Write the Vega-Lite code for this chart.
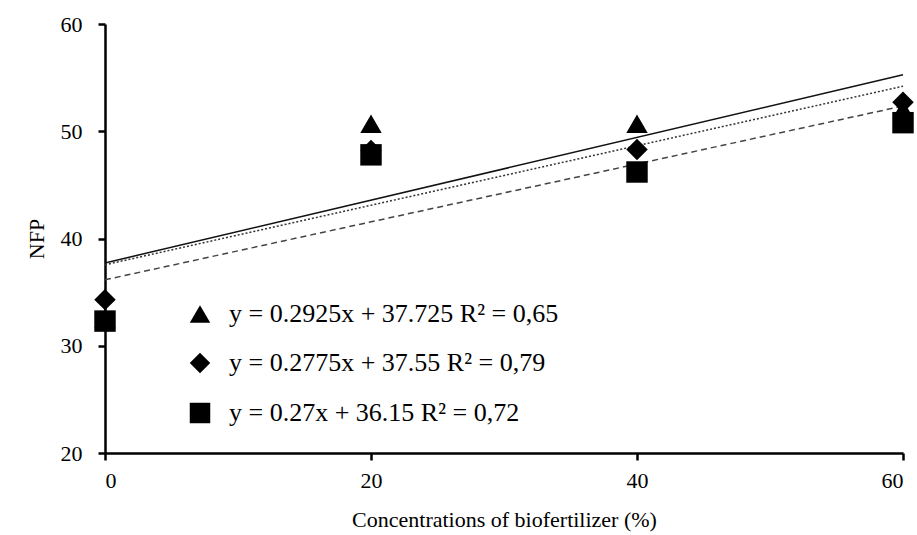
{
  "$schema": "https://vega.github.io/schema/vega-lite/v6.json",
  "width": 798,
  "height": 429,
  "autosize": {"type": "none"},
  "padding": {"left": 105, "top": 24, "right": 14, "bottom": 82},
  "background": "white",
  "config": {
    "view": {"stroke": null},
    "font": "Liberation Serif",
    "axis": {
      "grid": false,
      "domainColor": "black",
      "domainWidth": 2.5,
      "tickColor": "black",
      "tickWidth": 2.5,
      "tickSize": 7,
      "labelFont": "Liberation Serif",
      "labelFontSize": 22,
      "labelColor": "black",
      "titleFont": "Liberation Serif",
      "titleFontSize": 22,
      "titleFontWeight": "normal",
      "titleColor": "black"
    }
  },
  "datasets": {
    "points": [
      {"conc": 0, "nfp": 32.55, "series": "y = 0.2925x + 37.725 R² = 0,65"},
      {"conc": 20, "nfp": 50.7, "series": "y = 0.2925x + 37.725 R² = 0,65"},
      {"conc": 40, "nfp": 50.7, "series": "y = 0.2925x + 37.725 R² = 0,65"},
      {"conc": 60, "nfp": 52.05, "series": "y = 0.2925x + 37.725 R² = 0,65"},
      {"conc": 0, "nfp": 34.3, "series": "y = 0.2775x + 37.55 R² = 0,79"},
      {"conc": 20, "nfp": 48.2, "series": "y = 0.2775x + 37.55 R² = 0,79"},
      {"conc": 40, "nfp": 48.3, "series": "y = 0.2775x + 37.55 R² = 0,79"},
      {"conc": 60, "nfp": 52.7, "series": "y = 0.2775x + 37.55 R² = 0,79"},
      {"conc": 0, "nfp": 32.3, "series": "y = 0.27x + 36.15 R² = 0,72"},
      {"conc": 20, "nfp": 47.8, "series": "y = 0.27x + 36.15 R² = 0,72"},
      {"conc": 40, "nfp": 46.2, "series": "y = 0.27x + 36.15 R² = 0,72"},
      {"conc": 60, "nfp": 50.8, "series": "y = 0.27x + 36.15 R² = 0,72"}
    ],
    "trends": [
      {"conc": 0, "nfp": 37.725, "fit": "A"},
      {"conc": 60, "nfp": 55.275, "fit": "A"},
      {"conc": 0, "nfp": 37.55, "fit": "B"},
      {"conc": 60, "nfp": 54.2, "fit": "B"},
      {"conc": 0, "nfp": 36.15, "fit": "C"},
      {"conc": 60, "nfp": 52.35, "fit": "C"}
    ]
  },
  "encoding": {
    "x": {
      "field": "conc",
      "type": "quantitative",
      "scale": {"domain": [0, 60], "nice": false, "zero": false},
      "axis": {"values": [0, 20, 40, 60], "title": "Concentrations of biofertilizer (%)", "labelPadding": 10, "titlePadding": 18}
    },
    "y": {
      "field": "nfp",
      "type": "quantitative",
      "scale": {"domain": [20, 60], "nice": false, "zero": false},
      "axis": {"values": [20, 30, 40, 50, 60], "title": "NFP", "labelPadding": 16, "titlePadding": 12}
    }
  },
  "layer": [
    {
      "data": {"name": "trends"},
      "transform": [{"filter": "datum.fit === 'A'"}],
      "mark": {"type": "line", "strokeWidth": 1.5, "color": "#111111"},
      "encoding": {}
    },
    {
      "data": {"name": "trends"},
      "transform": [{"filter": "datum.fit === 'B'"}],
      "mark": {"type": "line", "strokeWidth": 1.5, "color": "#333333", "strokeDash": [2, 2]},
      "encoding": {}
    },
    {
      "data": {"name": "trends"},
      "transform": [{"filter": "datum.fit === 'C'"}],
      "mark": {"type": "line", "strokeWidth": 1.5, "color": "#444444", "strokeDash": [6, 4]},
      "encoding": {}
    },
    {
      "data": {"name": "points"},
      "mark": {"type": "point", "filled": true, "color": "black", "opacity": 1, "size": 460},
      "encoding": {
        "shape": {
          "field": "series",
          "type": "nominal",
          "scale": {
            "domain": ["y = 0.2925x + 37.725 R² = 0,65", "y = 0.2775x + 37.55 R² = 0,79", "y = 0.27x + 36.15 R² = 0,72"],
            "range": ["triangle-up", "diamond", "square"]
          },
          "legend": {
            "title": null,
            "orient": "none",
            "legendX": 82,
            "legendY": 277,
            "labelFont": "Liberation Serif",
            "labelFontSize": 26,
            "labelColor": "black",
            "labelOffset": 16,
            "labelLimit": 500,
            "rowPadding": 22,
            "symbolSize": 420,
            "symbolFillColor": "black",
            "symbolStrokeColor": "black",
            "symbolOpacity": 1
          }
        }
      }
    }
  ]
}
